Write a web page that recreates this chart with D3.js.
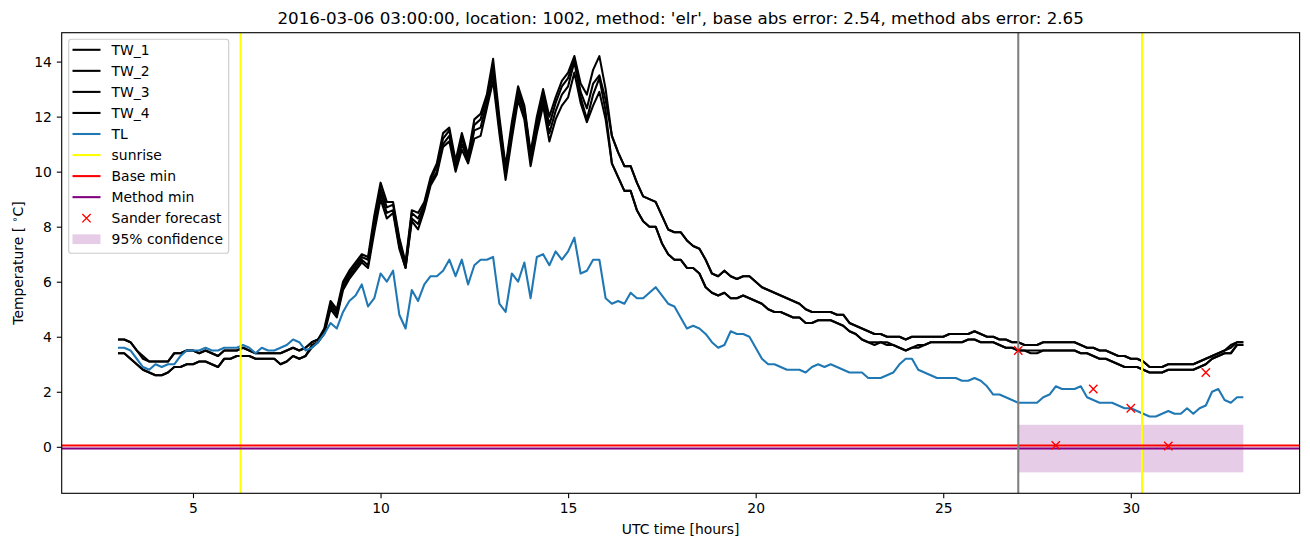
<!DOCTYPE html>
<html><head><meta charset="utf-8">
<script src="https://cdn.jsdelivr.net/npm/d3@7"></script>
<style>body{margin:0;background:#fff} text{font-family:"DejaVu Sans",sans-serif}</style>
</head><body><svg id="c" width="1310" height="547"></svg>
<script>
// ---- data (10-minute samples, from 3.0 h to 33.0 h UTC) ----
const tStart = 3, tStepMinutes = 10, nSamples = 181;
const TW_1 = [3.9,3.9,3.8,3.5,3.3,3.1, 3.1,3.1,3.1,3.4,3.4,3.5, 3.5,3.4,3.5,3.4,3.3,3.5, 3.5,3.5,3.6,3.5,3.4,3.4, 3.4,3.4,3.4,3.5,3.6,3.5,
 3.6,3.8,3.9,4.3,5.3,5.0, 6.0,6.4,6.7,7.0,6.9,8.4, 9.6,8.9,8.9,7.6,6.7,8.6, 8.5,8.9,9.8,10.3,11.4,11.6, 10.4,11.4,10.6,11.9,12.1,12.8,
 14.1,12.0,10.2,11.8,13.1,12.4, 10.7,12.0,13.0,12.0,12.7,13.3, 13.6,14.2,13.2,12.8,13.7,14.2, 13.0,11.3,10.7,10.2,10.2,9.6, 9.1,9.0,8.9,8.4,7.9,7.8,
 7.8,7.5,7.3,7.2,6.8,6.3, 6.2,6.4,6.2,6.1,6.2,6.2, 6.0,5.8,5.7,5.6,5.5,5.4, 5.3,5.2,5.0,4.9,4.9,4.9, 4.9,4.8,4.8,4.5,4.4,4.3,
 4.2,4.1,4.1,4.0,4.0,4.0, 3.9,4.0,4.0,4.0,4.0,4.0, 4.0,4.1,4.1,4.1,4.1,4.2, 4.1,4.0,4.0,3.9,3.9,3.8, 3.8,3.7,3.7,3.7,3.8,3.8,
 3.8,3.8,3.8,3.8,3.7,3.6, 3.6,3.5,3.5,3.4,3.3,3.3, 3.2,3.2,3.1,2.9,2.9,2.9, 3.0,3.0,3.0,3.0,3.0,3.1, 3.2,3.3,3.4,3.5,3.6,3.8, 3.8];
const TW_2 = [3.9,3.9,3.8,3.5,3.2,3.1, 3.1,3.1,3.1,3.4,3.4,3.5, 3.5,3.4,3.5,3.4,3.3,3.5, 3.5,3.5,3.6,3.5,3.4,3.4, 3.4,3.4,3.4,3.5,3.6,3.5,
 3.6,3.8,3.9,4.2,5.2,4.9, 5.9,6.3,6.6,6.9,6.8,8.2, 9.4,8.7,8.8,7.5,6.6,8.5, 8.3,8.8,9.7,10.2,11.2,11.5, 10.2,11.2,10.5,11.7,11.9,12.7,
 13.8,11.8,10.1,11.6,12.9,12.3, 10.6,11.8,12.8,11.7,12.5,13.1, 13.4,14.1,12.9,12.3,13.2,13.5, 12.6,11.3,10.7,10.2,10.2,9.6, 9.1,9.0,8.9,8.4,7.9,7.8,
 7.8,7.5,7.3,7.2,6.8,6.3, 6.2,6.4,6.2,6.1,6.2,6.2, 6.0,5.8,5.7,5.6,5.5,5.4, 5.3,5.2,5.0,4.9,4.9,4.9, 4.9,4.8,4.8,4.5,4.4,4.3,
 4.2,4.1,4.1,4.0,4.0,4.0, 3.9,4.0,4.0,4.0,4.0,4.0, 4.0,4.1,4.1,4.1,4.1,4.2, 4.1,4.0,4.0,3.9,3.9,3.8, 3.8,3.7,3.7,3.7,3.8,3.8,
 3.8,3.8,3.8,3.8,3.7,3.6, 3.6,3.5,3.5,3.4,3.3,3.3, 3.2,3.2,3.1,2.9,2.9,2.9, 3.0,3.0,3.0,3.0,3.0,3.1, 3.2,3.3,3.4,3.5,3.7,3.8, 3.8];
const TW_3 = [3.4,3.4,3.2,3.0,2.8,2.7, 2.6,2.6,2.7,2.9,2.9,3.0, 3.0,3.1,3.1,3.0,2.9,3.2, 3.2,3.3,3.3,3.3,3.2,3.2, 3.2,3.2,3.0,3.1,3.3,3.2,
 3.3,3.7,3.8,4.2,5.1,4.8, 5.8,6.2,6.5,6.8,6.6,8.0, 9.2,8.5,8.6,7.3,6.5,8.3, 8.1,8.7,9.6,10.0,11.0,11.3, 10.1,11.0,10.4,11.5,11.6,12.5,
 13.6,11.6,10.0,11.4,12.8,12.1, 10.5,11.6,12.6,11.4,12.2,12.8, 13.1,14.0,12.7,11.9,12.8,13.4, 12.2,10.3,9.8,9.3,9.3,8.6, 8.2,8.0,8.0,7.4,7.0,6.8,
 6.8,6.5,6.5,6.3,5.8,5.6, 5.5,5.6,5.4,5.4,5.5,5.4, 5.3,5.2,5.0,4.9,4.9,4.8, 4.7,4.7,4.5,4.5,4.6,4.6, 4.6,4.5,4.4,4.2,4.1,3.9,
 3.8,3.8,3.8,3.8,3.7,3.6, 3.5,3.6,3.7,3.7,3.8,3.8, 3.8,3.8,3.8,3.8,3.9,3.9, 3.8,3.8,3.8,3.7,3.6,3.6, 3.5,3.5,3.5,3.5,3.5,3.5,
 3.5,3.5,3.5,3.5,3.4,3.4, 3.3,3.2,3.2,3.1,3.0,2.9, 2.9,2.9,2.8,2.7,2.7,2.7, 2.8,2.8,2.8,2.8,2.8,2.9, 3.0,3.2,3.3,3.4,3.4,3.7, 3.7];
const TW_4 = [3.4,3.4,3.2,3.0,2.8,2.7, 2.6,2.6,2.7,2.9,2.9,3.0, 3.0,3.1,3.1,3.0,2.9,3.2, 3.2,3.3,3.3,3.3,3.2,3.2, 3.2,3.2,3.0,3.1,3.3,3.2,
 3.3,3.6,3.8,4.1,5.0,4.7, 5.7,6.1,6.4,6.7,6.5,7.8, 9.0,8.3,8.5,7.2,6.5,8.2, 7.9,8.6,9.5,9.9,10.9,11.1, 10.0,10.8,10.3,11.2,11.3,12.3,
 13.3,11.4,9.7,11.2,12.6,11.9, 10.2,11.4,12.4,11.1,11.9,12.4, 12.7,13.6,12.5,11.8,12.4,12.9, 11.9,10.3,9.8,9.3,9.3,8.6, 8.2,8.0,8.0,7.4,7.0,6.8,
 6.8,6.5,6.5,6.3,5.8,5.6, 5.5,5.6,5.4,5.4,5.5,5.4, 5.3,5.2,5.0,4.9,4.9,4.8, 4.7,4.7,4.5,4.5,4.6,4.6, 4.6,4.5,4.4,4.2,4.1,3.9,
 3.8,3.7,3.8,3.7,3.7,3.6, 3.5,3.6,3.6,3.7,3.8,3.8, 3.8,3.8,3.8,3.8,3.9,3.9, 3.8,3.8,3.8,3.7,3.6,3.6, 3.5,3.5,3.4,3.4,3.5,3.5,
 3.5,3.5,3.5,3.5,3.4,3.4, 3.3,3.2,3.2,3.1,3.0,2.9, 2.9,2.9,2.8,2.7,2.7,2.7, 2.8,2.8,2.8,2.8,2.8,2.9, 3.0,3.2,3.3,3.4,3.4,3.7, 3.7];
const TL = [3.6,3.6,3.5,3.2,2.9,2.8, 3.0,2.9,3.0,3.0,3.3,3.5, 3.5,3.5,3.6,3.5,3.5,3.6, 3.6,3.6,3.7,3.6,3.4,3.6, 3.5,3.5,3.6,3.7,3.9,3.8,
 3.5,3.6,3.8,4.1,4.5,4.3, 4.9,5.3,5.5,5.9,5.1,5.4, 6.3,6.0,6.4,4.8,4.3,5.7, 5.3,5.9,6.2,6.2,6.4,6.8, 6.2,6.8,5.9,6.6,6.8,6.8,
 6.9,5.2,4.9,6.3,6.0,6.7, 5.4,6.9,7.0,6.6,7.1,6.8, 7.1,7.6,6.3,6.4,6.8,6.8, 5.4,5.2,5.3,5.2,5.6,5.4, 5.4,5.6,5.8,5.5,5.2,5.1,
 4.7,4.3,4.4,4.3,4.1,3.8, 3.6,3.7,4.2,4.1,4.1,4.0, 3.6,3.2,3.0,3.0,2.9,2.8, 2.8,2.8,2.7,2.9,3.0,2.9, 3.0,2.9,2.8,2.7,2.7,2.7,
 2.5,2.5,2.5,2.6,2.7,3.0, 3.2,3.2,2.8,2.7,2.6,2.5, 2.5,2.5,2.5,2.4,2.4,2.5, 2.4,2.2,1.9,1.9,1.8,1.7, 1.6,1.6,1.6,1.6,1.8,1.9,
 2.2,2.1,2.1,2.1,2.2,1.8, 1.7,1.6,1.6,1.6,1.5,1.4, 1.4,1.3,1.2,1.1,1.1,1.2, 1.3,1.2,1.2,1.4,1.2,1.4, 1.5,2.0,2.1,1.7,1.6,1.8, 1.8];
const sunriseHours = [6.27, 30.3];
const forecastHour = 27;
const baseMin = 0.05, methodMin = -0.06;
const sanderHours = [27, 28, 29, 30, 31, 32];
const sanderValues = [3.5, 0.05, 2.1, 1.4, 0.03, 2.7];
const confHours = [27, 33], confLow = -0.93, confHigh = 0.8;
const xTicks = [5, 10, 15, 20, 25, 30];
const yTicks = [0, 2, 4, 6, 8, 10, 12, 14];
const legendLabels = ["TW_1","TW_2","TW_3","TW_4","TL","sunrise","Base min","Method min","Sander forecast","95% confidence"];
const titleText = "2016-03-06 03:00:00, location: 1002, method: 'elr', base abs error: 2.54, method abs error: 2.65";

// ---- drawing ----
const hours = d3.range(nSamples).map(i => tStart + i * tStepMinutes / 60);
const L = 61.7, R = 1299.6, T = 32.7, B = 493.3;
const x = d3.scaleLinear().domain([1.5, 34.5]).range([L, R]);
const y = d3.scaleLinear().domain([-1.69, 15.05]).range([B, T]);
const svg = d3.select("#c");
const FS = 13.9;
const blue = "#1f77b4";

svg.append("defs").append("clipPath").attr("id","clip")
  .append("rect").attr("x",L).attr("y",T).attr("width",R-L).attr("height",B-T);
const g = svg.append("g").attr("clip-path","url(#clip)");

// confidence band (zorder 1)
g.append("rect").attr("x", x(confHours[0])).attr("width", x(confHours[1]) - x(confHours[0]))
  .attr("y", y(confHigh)).attr("height", y(confLow) - y(confHigh))
  .attr("fill", "purple").attr("fill-opacity", 0.2);

const line = d3.line().x((d,i) => x(hours[i])).y(d => y(d));
[TW_1, TW_2, TW_3, TW_4].forEach(s => {
  g.append("path").attr("d", line(s)).attr("fill","none").attr("stroke","#000")
    .attr("stroke-width",2.08).attr("stroke-linejoin","round");
});
g.append("path").attr("d", line(TL)).attr("fill","none").attr("stroke",blue)
  .attr("stroke-width",2.08).attr("stroke-linejoin","round");

sunriseHours.forEach(h => g.append("line").attr("x1",x(h)).attr("x2",x(h)).attr("y1",T).attr("y2",B)
  .attr("stroke","#ffff00").attr("stroke-width",2.08));
g.append("line").attr("x1",L).attr("x2",R).attr("y1",y(baseMin)).attr("y2",y(baseMin))
  .attr("stroke","red").attr("stroke-width",2.08);
g.append("line").attr("x1",L).attr("x2",R).attr("y1",y(methodMin)).attr("y2",y(methodMin))
  .attr("stroke","purple").attr("stroke-width",2.08);
g.append("line").attr("x1",x(forecastHour)).attr("x2",x(forecastHour)).attr("y1",T).attr("y2",B)
  .attr("stroke","grey").attr("stroke-width",2.08);

const ms = 4.17;
sanderHours.forEach((h,i) => {
  const cx = x(h), cy = y(sanderValues[i]);
  g.append("path").attr("d",`M${cx-ms},${cy-ms}L${cx+ms},${cy+ms}M${cx-ms},${cy+ms}L${cx+ms},${cy-ms}`)
    .attr("stroke","red").attr("stroke-width",1.39).attr("fill","none");
});

// axes
const xa = svg.append("g").attr("transform",`translate(0,${B})`)
  .call(d3.axisBottom(x).tickValues(xTicks).tickSize(4.9).tickPadding(4.9).tickFormat(d3.format("d")));
const ya = svg.append("g").attr("transform",`translate(${L},0)`)
  .call(d3.axisLeft(y).tickValues(yTicks).tickSize(4.9).tickPadding(4.9).tickFormat(d3.format("d")));
[xa, ya].forEach(a => {
  a.select(".domain").remove();
  a.selectAll(".tick line").attr("stroke","#000").attr("stroke-width",1.1);
  a.selectAll(".tick text").attr("font-size",FS).attr("fill","#000").attr("font-family","DejaVu Sans");
});
svg.append("rect").attr("x",L).attr("y",T).attr("width",R-L).attr("height",B-T)
  .attr("fill","none").attr("stroke","#000").attr("stroke-width",1.1);

// labels
svg.append("text").attr("x",(L+R)/2).attr("y",23.5).attr("text-anchor","middle")
  .attr("font-size",16.7).text(titleText);
svg.append("text").attr("x",(L+R)/2).attr("y",534).attr("text-anchor","middle")
  .attr("font-size",FS).text("UTC time [hours]");
const yl = svg.append("text").attr("transform",`translate(23,${(T+B)/2}) rotate(-90)`)
  .attr("text-anchor","middle").attr("font-size",FS);
yl.append("tspan").text("Temperature [ ");
yl.append("tspan").attr("baseline-shift","super").attr("font-size",FS*0.7).text("∘");
yl.append("tspan").text("C]");

// legend
const lg = svg.append("g");
lg.append("rect").attr("x",68.7).attr("y",39.2).attr("width",160).attr("height",214)
  .attr("rx",2.8).attr("fill","#fff").attr("fill-opacity",0.8).attr("stroke","#ccc").attr("stroke-width",1.1);
const ly0 = 49.8, ldy = 21.05;
const handles = [
  {t:"line",c:"#000"},{t:"line",c:"#000"},{t:"line",c:"#000"},{t:"line",c:"#000"},
  {t:"line",c:blue},{t:"line",c:"#ffff00"},{t:"line",c:"red"},{t:"line",c:"purple"},
  {t:"x",c:"red"},{t:"patch",c:"purple"}];
legendLabels.forEach((lab,i) => {
  const yy = ly0 + i*ldy;
  const h = handles[i];
  if (h.t === "line") lg.append("line").attr("x1",72.5).attr("x2",100.5).attr("y1",yy).attr("y2",yy)
      .attr("stroke",h.c).attr("stroke-width",2.08);
  else if (h.t === "x") lg.append("path").attr("d",`M${86.5-ms},${yy-ms}L${86.5+ms},${yy+ms}M${86.5-ms},${yy+ms}L${86.5+ms},${yy-ms}`)
      .attr("stroke",h.c).attr("stroke-width",1.39);
  else lg.append("rect").attr("x",72.5).attr("y",yy-4.9).attr("width",28).attr("height",9.7)
      .attr("fill",h.c).attr("fill-opacity",0.2);
  lg.append("text").attr("x",111.6).attr("y",yy).attr("dy","0.36em").attr("font-size",FS).text(lab);
});
</script></body></html>
